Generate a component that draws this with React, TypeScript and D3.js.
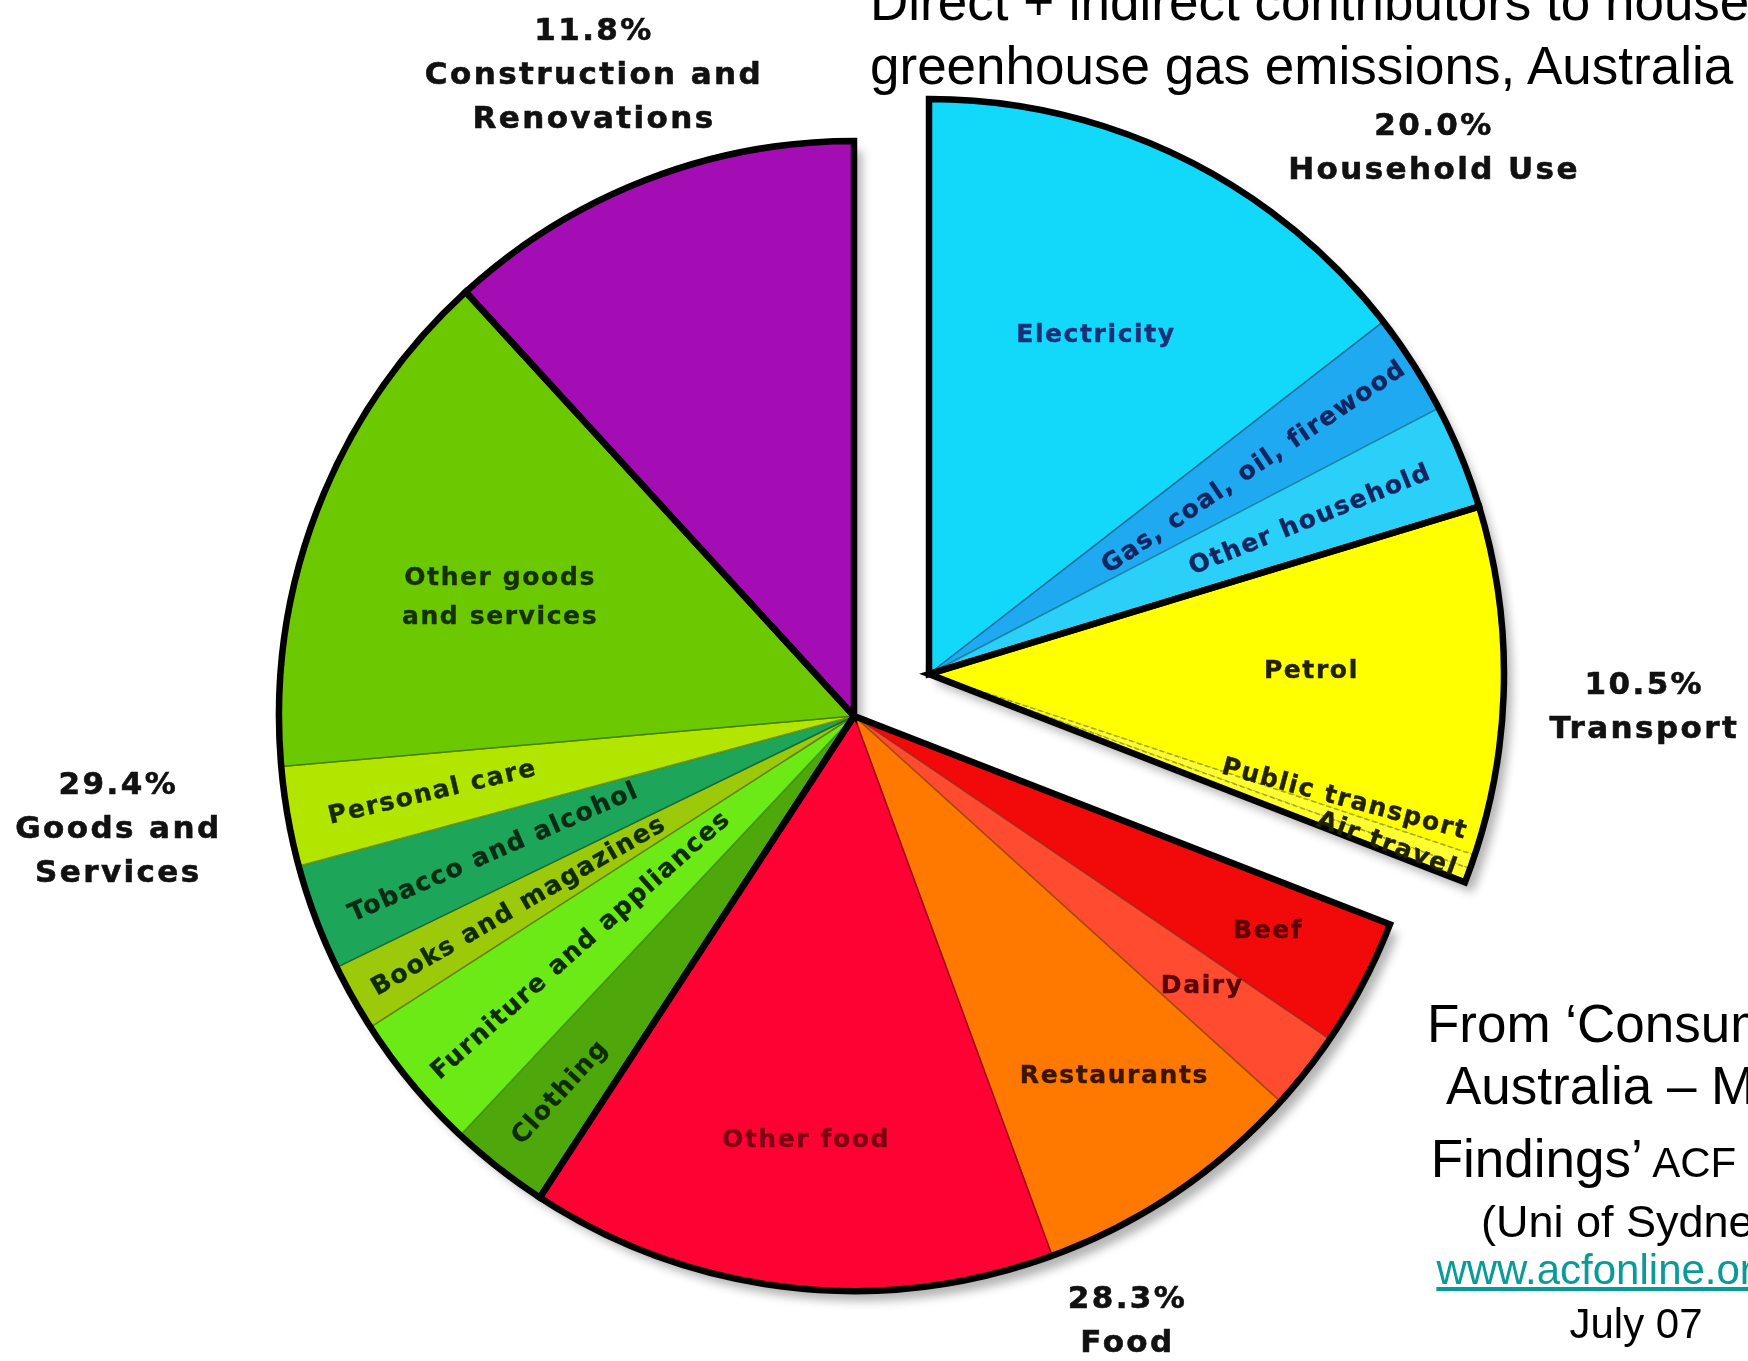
import React from 'react';
import * as d3 from 'd3';

// ---------- data ----------
const groupNames = ['Household Use', 'Transport', 'Food', 'Goods and Services', 'Construction and Renovations'];
const groupValues = [20.0, 10.5, 28.3, 29.4, 11.8]; // printed shares
const groupLabelLines = [
  ['Household Use'],
  ['Transport'],
  ['Food'],
  ['Goods and', 'Services'],
  ['Construction and', 'Renovations'],
];
const explodedGroups = [0, 1];

const subNames = [
  'Electricity', 'Gas, coal, oil, firewood', 'Other household',
  'Petrol', 'Public transport', 'Air travel',
  'Beef', 'Dairy', 'Restaurants', 'Other food',
  'Clothing', 'Furniture and appliances', 'Books and magazines', 'Tobacco and alcohol', 'Personal care', 'Other goods|and services',
  'Construction and Renovations',
];
const subGroup = [0, 0, 0, 1, 1, 1, 2, 2, 2, 2, 3, 3, 3, 3, 3, 3, 4];
// slice sizes as drawn in the picture (%)
const subValues = [14.5, 2.85, 2.95, 9.8, 0.4, 0.4, 3.6, 2.2, 7.7, 14.8, 2.8, 3.9, 1.9, 3.0, 2.8, 14.6, 11.8];

const titleLines = ['Direct + indirect contributors to household', 'greenhouse gas emissions, Australia'];
const sourceLines = [
  [{ t: '\u2018Consuming', big: true, pre: 'From ' }],
  [{ t: 'Australia \u2013 Main', big: true }],
  [{ t: 'Findings\u2019', big: true }, { t: ' ACF 2007', big: false }],
  [{ t: '(Uni of Sydney)', big: false, mid: true }],
  [{ t: 'www.acfonline.org.au', big: false, link: true }],
  [{ t: 'July 07', big: false }],
];

// ---------- styles / layout ----------
const W = 1748, H = 1361;
const CX = 854, CY = 716, R = 575;
const EXPLODE = { dx: 75, dy: -42 };

const subFill = [
  '#12d8fa', '#1fa9f0', '#2ad0f8',
  '#ffff00', '#ffff30', '#ffff30',
  '#f20a0a', '#ff4b30', '#ff7800', '#ff0234',
  '#4ea80c', '#6cea16', '#9cca0a', '#1da65a', '#b2e600', '#6cc800',
  '#a40cb4',
];
const subText = [
  '#1b2f78', '#14245e', '#14245e',
  '#222200', '#222200', '#222200',
  '#5a0000', '#5a0505', '#3a1500', '#7a0012',
  '#0f2a06', '#0f2a06', '#0f2a06', '#0a2a12', '#1a2a00', '#173000',
  '#000',
];
// label layout: radius fraction along slice mid angle (+ optional angle offset), rotation (deg)
const subLabelLayout: ({ r: number; rot: number; da?: number } | null)[] = [
  { r: 0.66, rot: 0 }, { r: 0.67, rot: -34 }, { r: 0.715, rot: -22 },
  { r: 0.665, rot: 0, da: -1.4 }, { r: 0.755, rot: 15, da: -2.5 }, { r: 0.85, rot: 20, da: -0.3 },
  { r: 0.81, rot: 0, da: -0.5 }, { r: 0.765, rot: 0, da: -0.5 }, { r: 0.77, rot: 0, da: -2 }, { r: 0.74, rot: 0 },
  { r: 0.83, rot: -48 }, { r: 0.62, rot: -41.6 }, { r: 0.67, rot: -30 }, { r: 0.67, rot: -23.6 }, { r: 0.745, rot: -13.3 }, { r: 0.65, rot: 0, da: -2.5 },
  null,
];
// group outer labels: angle (deg, clockwise from 12 o'clock) and radius from group centre
const groupLabelLayout = [
  { a: 43.7, r: 731 }, { a: 92.5, r: 716 }, { a: 155.6, r: 662 }, { a: 261.4, r: 744 }, { a: 338.0, r: 694 },
];

const fmtPct = (v: number) => d3.format('.1f')(v) + '%';
const toRad = (d: number) => (d * Math.PI) / 180;

export default function App() {
  const pie = d3.pie<number>().sort(null).value((d) => d).startAngle(0).endAngle(2 * Math.PI);
  const subArcs = pie(subValues);
  const groupArcs = groupNames.map((_, g) => {
    const mine = subArcs.filter((_, i) => subGroup[i] === g);
    return {
      startAngle: d3.min(mine, (d) => d.startAngle)!,
      endAngle: d3.max(mine, (d) => d.endAngle)!,
    };
  });
  const arc = d3.arc<any>().innerRadius(0).outerRadius(R);

  const centerOf = (g: number) =>
    explodedGroups.includes(g) ? [CX + EXPLODE.dx, CY + EXPLODE.dy] : [CX, CY];

  const polar = (c: number[], a: number, r: number) => [c[0] + r * Math.sin(a), c[1] - r * Math.cos(a)];

  const ys = [1042, 1104, 1177, 1237, 1284, 1338];

  return (
    <svg width={W} height={H} style={{ position: 'absolute', left: 0, top: 0, background: '#fff' }}>
      <defs>
        <filter id="shadow" x="-10%" y="-10%" width="120%" height="120%">
          <feGaussianBlur stdDeviation="5" />
        </filter>
      </defs>
      <rect x={0} y={0} width={W} height={H} fill="#fff" />

      {/* shadows */}
      <g filter="url(#shadow)" opacity={0.55}>
        {groupArcs.map((g, i) => {
          const c = centerOf(i);
          return <path key={i} d={arc(g) as string} transform={`translate(${c[0] + 8},${c[1] + 10})`} fill="#777" />;
        })}
      </g>

      {/* sub slices */}
      {subArcs.map((s, i) => {
        const c = centerOf(subGroup[i]);
        const fill = subFill[i];
        const dashed = subGroup[i] === 1;
        return (
          <path
            key={i}
            d={arc(s) as string}
            transform={`translate(${c[0]},${c[1]})`}
            fill={fill}
            stroke={d3.color(fill)!.darker(1.2).formatHex()}
            strokeWidth={1.5}
            strokeDasharray={dashed ? '5 3' : undefined}
          />
        );
      })}

      {/* group outlines */}
      {groupArcs.map((g, i) => {
        const c = centerOf(i);
        return (
          <path key={i} d={arc(g) as string} transform={`translate(${c[0]},${c[1]})`} fill="none" stroke="#000" strokeWidth={6.5} strokeLinejoin="miter" />
        );
      })}

      {/* inner labels */}
      {subArcs.map((s, i) => {
        const lay = subLabelLayout[i];
        if (!lay) return null;
        const c = centerOf(subGroup[i]);
        const mid = (s.startAngle + s.endAngle) / 2 + toRad(lay.da || 0);
        const [x, y] = polar(c, mid, lay.r * R);
        const lines = subNames[i].split('|');
        return (
          <text
            key={i}
            transform={`translate(${x},${y}) rotate(${lay.rot})`}
            textAnchor="middle"
            fontFamily="DejaVu Sans, Verdana, sans-serif"
            fontWeight="bold"
            fontSize={25}
            letterSpacing={1.6}
            fill={subText[i]}
            stroke={subText[i]}
            strokeWidth={0.4}
          >
            {lines.map((l, k) => (
              <tspan key={k} x={0} y={(k - (lines.length - 1) / 2) * 39} dominantBaseline="central">
                {l}
              </tspan>
            ))}
          </text>
        );
      })}

      {/* group labels */}
      {groupArcs.map((g, i) => {
        const lay = groupLabelLayout[i];
        const c = centerOf(i);
        const [x, y] = polar(c, toRad(lay.a), lay.r);
        const lines = [fmtPct(groupValues[i]), ...groupLabelLines[i]];
        return (
          <text
            key={i}
            x={x}
            y={y}
            textAnchor="middle"
            fontFamily="DejaVu Sans, Verdana, sans-serif"
            fontWeight="bold"
            fontSize={31}
            letterSpacing={2.4}
            fill="#111"
            stroke="#111"
            strokeWidth={0.6}
          >
            {lines.map((l, k) => (
              <tspan key={k} x={x} y={y + (k - (lines.length - 1) / 2) * 44} dominantBaseline="central">
                {l}
              </tspan>
            ))}
          </text>
        );
      })}

      {/* title */}
      {titleLines.map((l, i) => (
        <text key={i} x={870} y={20 + i * 64} fontFamily="Liberation Sans, Arial, sans-serif" fontSize={53} fill="#000">
          {l}
        </text>
      ))}

      {/* source */}
      {sourceLines.map((parts, i) => (
        <text key={i} x={1636} y={ys[i]} textAnchor="middle" fontFamily="Liberation Sans, Arial, sans-serif" fill="#000">
          {parts.map((p: any, k) => (
            <tspan
              key={k}
              fontSize={p.big ? 53 : p.mid ? 45 : 42}
              fill={p.link ? '#0a9a9a' : '#000'}
              style={p.link ? { textDecoration: 'underline' } : undefined}
            >
              {(p.pre || '') + p.t}
            </tspan>
          ))}
        </text>
      ))}
    </svg>
  );
}
